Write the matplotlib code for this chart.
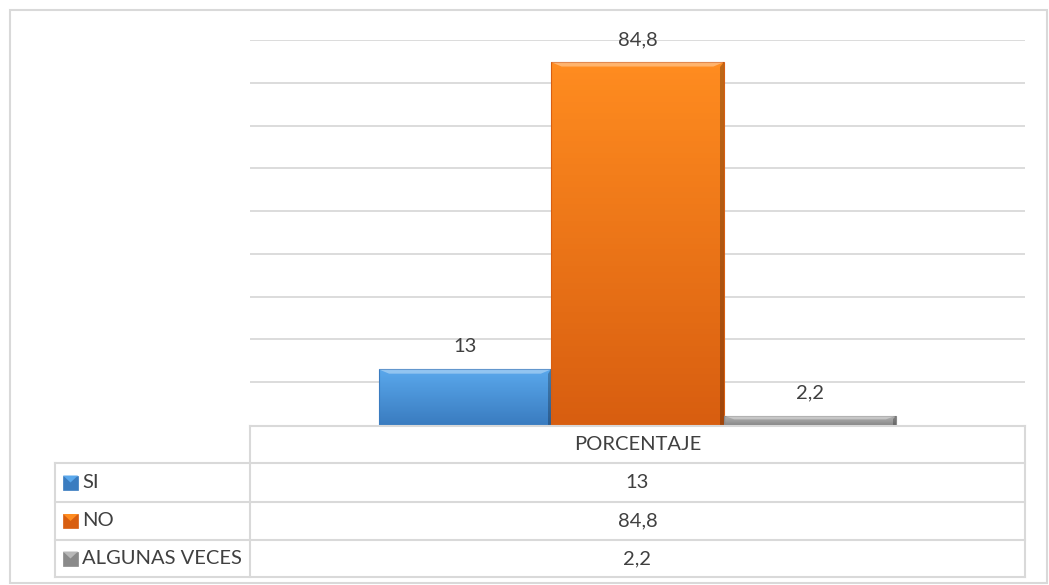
import numpy as np
import matplotlib.pyplot as plt
from matplotlib.colors import LinearSegmentedColormap
from matplotlib.patches import Rectangle, Polygon

plt.rcParams['font.family'] = ['Lato', 'DejaVu Sans']

categoria = 'PORCENTAJE'
series = ['SI', 'NO', 'ALGUNAS VECES']
valores = [13, 84.8, 2.2]
etiquetas = ['13', '84,8', '2,2']
colores = [('#5aa8ec', '#3a7cc0'), ('#ff8c20', '#d85e10'), ('#b8b8b8', '#8a8a8a')]

W, H = 1049, 585
fig = plt.figure(figsize=(W / 100, H / 100), dpi=100)
fig.patch.set_facecolor('white')

# plot area in pixels
x0, x1, ytop, ybase = 250, 1025, 40, 425
ax = fig.add_axes([x0 / W, 1 - ybase / H, (x1 - x0) / W, (ybase - ytop) / H])
half = (x1 - x0) / 2 / 172.5
ax.set_xlim(-half, half)
ax.set_ylim(0, 90)
ax.set_axis_off()
for g in range(10, 100, 10):
    ax.axhline(g, color='#d9d9d9', lw=1.3, zorder=0)

txt = '#404040'
fs = 14.5
grad = np.linspace(0, 1, 64).reshape(-1, 1)
for i, (v, lab, (c1, c2)) in enumerate(zip(valores, etiquetas, colores)):
    xc = i - 1
    rect = Rectangle((xc - 0.5, 0), 1, v, facecolor='none', edgecolor=c2, lw=0.8, zorder=3)
    ax.add_patch(rect)
    cmap = LinearSegmentedColormap.from_list('b%d' % i, [c2, c1])
    im = ax.imshow(grad, cmap=cmap, aspect='auto', origin='lower',
                   extent=(xc - 0.5, xc + 0.5, 0, v), zorder=2)
    im.set_clip_path(rect)
    # bevel on top edge
    b = min(1.0, v * 0.4)
    bx = 0.06
    ax.add_patch(Polygon([(xc - 0.5, v), (xc + 0.5, v), (xc + 0.5 - bx, v - b), (xc - 0.5 + bx, v - b)],
                         closed=True, facecolor='white', alpha=0.35, lw=0, zorder=4))
    ax.add_patch(Polygon([(xc + 0.5, v), (xc + 0.5, 0), (xc + 0.5 - 0.02, 0), (xc + 0.5 - 0.02, v - b)],
                         closed=True, facecolor='black', alpha=0.25, lw=0, zorder=4))
    ax.text(xc, v + 5.3, lab, ha='center', va='center', fontsize=fs, color=txt, zorder=5)

ax.set_xlim(-half, half)
ax.set_ylim(0, 90)

# data table under the plot
lc = '#d9d9d9'
def fx(px):
    return px / W
def fy(py):
    return 1 - py / H

def hline(xa, xb, y):
    fig.add_artist(plt.Line2D([fx(xa), fx(xb)], [fy(y), fy(y)], color=lc, lw=1.5))
def vline(x, ya, yb):
    fig.add_artist(plt.Line2D([fx(x), fx(x)], [fy(ya), fy(yb)], color=lc, lw=1.5))

rows = [426, 463, 502, 540, 577]
hline(250, 1025, rows[0])
for y in rows[1:]:
    hline(55, 1025, y)
vline(250, rows[0], rows[-1])
vline(1025, rows[0], rows[-1])
vline(55, rows[1], rows[-1])
fig.text(fx(637.5), fy((rows[0] + rows[1]) / 2), categoria, ha='center', va='center',
         fontsize=fs, color=txt)
for k, (s, lab, (c1, c2)) in enumerate(zip(series, etiquetas, colores)):
    yc = (rows[k + 1] + rows[k + 2]) / 2
    fig.add_artist(Rectangle((fx(63), fy(yc + 7)), 15 / W, 14 / H, facecolor=c2,
                             edgecolor=c2, lw=0.5, transform=fig.transFigure))
    fig.add_artist(Polygon([(fx(63), fy(yc - 7)), (fx(78), fy(yc - 7)), (fx(70.5), fy(yc))],
                           closed=True, facecolor=c1, lw=0, transform=fig.transFigure))
    fig.text(fx(82), fy(yc), s, ha='left', va='center', fontsize=fs, color=txt)
    fig.text(fx(637.5), fy(yc), lab, ha='center', va='center', fontsize=fs, color=txt)

# chart border
fig.add_artist(Rectangle((fx(10), fy(583)), (1047 - 10) / W, (583 - 10) / H, facecolor='none',
                         edgecolor=lc, lw=1.5, transform=fig.transFigure))

fig.savefig('out.png', dpi=100)
